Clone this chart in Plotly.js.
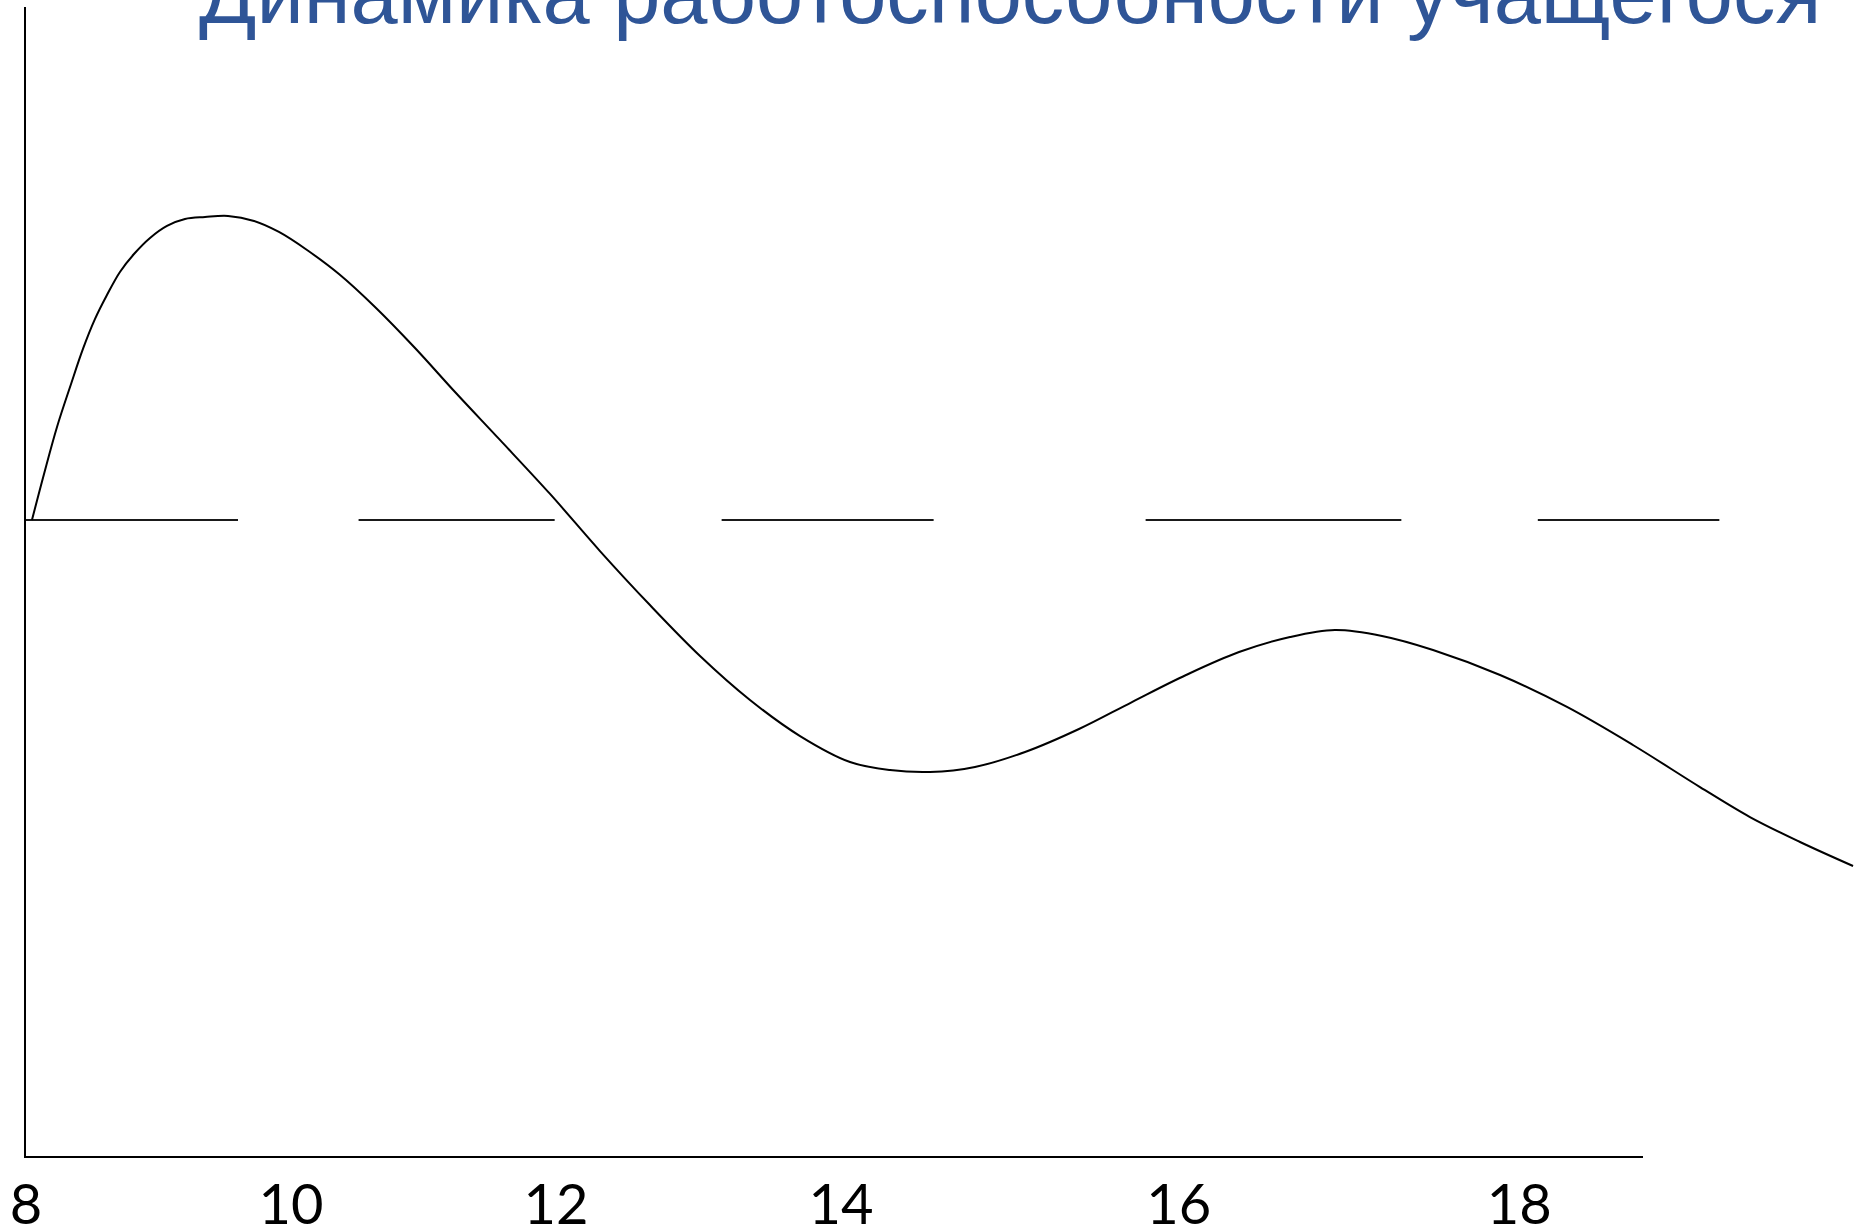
<!DOCTYPE html>
<html>
<head>
<meta charset="utf-8">
<script src="https://cdn.plot.ly/plotly-3.0.1.min.js"></script>
<style>
  html, body { margin: 0; padding: 0; background: #ffffff; }
  #chart { width: 1854px; height: 1232px; }
</style>
</head>
<body>
<div id="chart"></div>
<script>
// ---- data ----
const titleText = 'Динамика работоспособности учащегося';

// time of day (hours) along the drawn curve
const hours = [8.045, 8.136, 8.234, 8.340, 8.430, 8.521, 8.611, 8.709, 8.815, 8.936, 9.064, 9.200,
  9.351, 9.525, 9.721, 9.909, 10.121, 10.362, 10.634, 10.936, 11.238, 11.577, 11.955, 12.332,
  12.709, 13.087, 13.464, 13.842, 14.219, 14.521, 14.823, 15.162, 15.540, 15.947, 16.347,
  16.755, 17.155, 17.540, 17.879, 18.234, 18.619, 19.125, 19.630, 20.128, 20.634, 21.011,
  21.389, 21.789];
// work capacity (relative units, 0 = time axis)
const capacity = [55.35, 59.36, 63.45, 67.19, 70.24, 72.85, 74.93, 76.94, 78.50, 79.90, 80.95, 81.55,
  81.72, 81.81, 81.38, 80.42, 78.85, 76.76, 73.89, 70.32, 66.49, 62.32, 57.62, 52.65,
  47.95, 43.52, 39.69, 36.55, 34.29, 33.59, 33.42, 33.86, 35.16, 37.16, 39.51,
  41.86, 43.86, 45.17, 45.78, 45.26, 44.04, 41.86, 39.08, 35.77, 32.11, 29.50,
  27.33, 25.24];

// average level reference line, drawn as separate pieces
const refLevel = 55.35;
const refStart = [8.0, 10.51, 13.25, 16.45, 19.41];
const refEnd   = [9.6, 11.99, 14.85, 18.38, 20.78];

// x tick labels and where they are placed
const tickLabels = ['8', '10', '12', '14', '16', '18'];
const tickPos    = [8, 10, 12, 14.15, 16.7, 19.27];
// the drawn time axis stops at this hour position
const axisEnd = 20.2;

// ---- build traces ----
const refX = [], refY = [];
refStart.forEach((s, i) => {
  refX.push(s, refEnd[i], null);
  refY.push(refLevel, refLevel, null);
});

const xFullEnd = 8 + 1828 / 132.5;

const traces = [
  {
    x: refX, y: refY, type: 'scatter', mode: 'lines',
    line: { color: '#1a1a1a', width: 2 },
    connectgaps: false, hoverinfo: 'skip', showlegend: false
  },
  {
    x: hours, y: capacity, type: 'scatter', mode: 'lines',
    line: { color: '#000000', width: 2, shape: 'spline', smoothing: 1, simplify: false },
    showlegend: false
  },
  {
    // carrier for the shorter drawn time-axis line
    x: [axisEnd], y: [0], xaxis: 'x2', yaxis: 'y', type: 'scatter', mode: 'lines',
    line: { width: 0 }, hoverinfo: 'skip', showlegend: false
  }
];

const layout = {
  width: 1854, height: 1232,
  margin: { l: 26, r: 0, t: 7, b: 76 },
  paper_bgcolor: '#ffffff', plot_bgcolor: 'rgba(0,0,0,0)',
  showlegend: false,
  title: {
    text: titleText,
    font: { family: 'Liberation Sans, Arial, sans-serif', size: 84.8, color: '#2F5597' },
    xref: 'container', x: 199 / 1854, xanchor: 'left',
    yref: 'container', y: 1 - 23 / 1232, yanchor: 'bottom'
  },
  xaxis: {
    range: [8, xFullEnd],
    showline: false,
    showgrid: false, zeroline: false, ticks: '',
    tickmode: 'array', tickvals: tickPos, ticktext: tickLabels,
    tickfont: { family: 'Lato, sans-serif', size: 56, color: '#000000' },
    ticklabelstandoff: 11,
    fixedrange: true
  },
  xaxis2: {
    domain: [0, (axisEnd - 8) / (xFullEnd - 8)],
    range: [8, axisEnd],
    anchor: 'y',
    showline: true, linecolor: '#000000', linewidth: 2,
    showgrid: false, zeroline: false, ticks: '', showticklabels: false,
    fixedrange: true
  },
  yaxis: {
    range: [0, 100],
    showline: true, linecolor: '#000000', linewidth: 2,
    showgrid: false, zeroline: false, ticks: '', showticklabels: false,
    fixedrange: true
  }
};

Plotly.newPlot('chart', traces, layout, { staticPlot: true, displayModeBar: false });
</script>
</body>
</html>
